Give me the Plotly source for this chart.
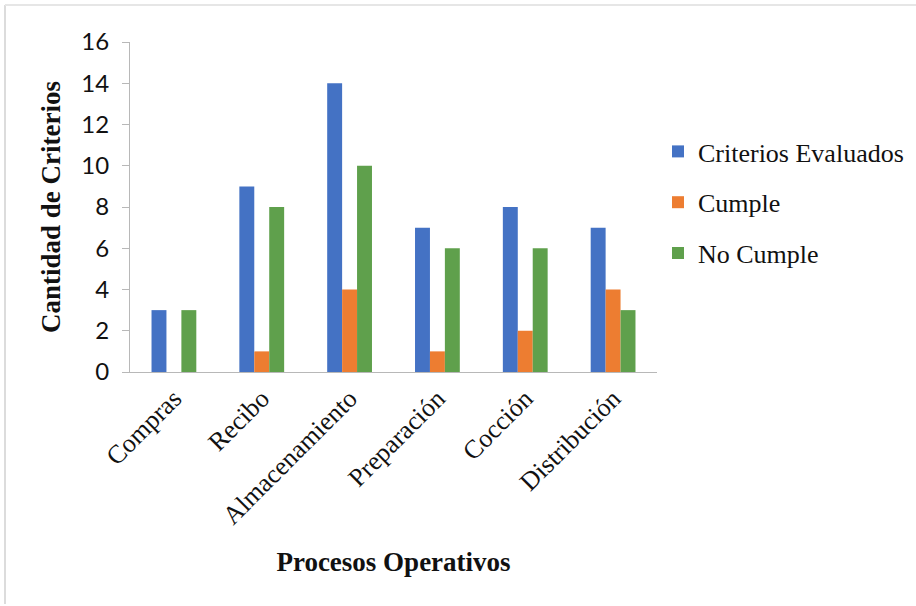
import plotly.graph_objects as go

# Operational processes and evaluation counts
procesos = ["Compras", "Recibo", "Almacenamiento", "Preparación", "Cocción", "Distribución"]
criterios_evaluados = [3, 9, 14, 7, 8, 7]
cumple = [0, 1, 4, 1, 2, 4]
no_cumple = [3, 8, 10, 6, 6, 3]

series_names = ["Criterios Evaluados", "Cumple", "No Cumple"]
series_colors = ["#4472C4", "#ED7D31", "#5FA04C"]
y_ticks = [0, 2, 4, 6, 8, 10, 12, 14, 16]

W, H = 916, 606
L, R, T, B = 130, 259, 42, 234
plot_w = W - L - R
plot_h = H - T - B

serif = "Liberation Serif, Times New Roman, serif"
sans = "Lato, Carlito, Calibri, sans-serif"

fig = go.Figure()
for name, vals, color in zip(series_names, [criterios_evaluados, cumple, no_cumple], series_colors):
    fig.add_trace(go.Bar(
        x=procesos, y=vals, name=name, marker_color=color,
        marker_line_width=0, legendgroup=name,
    ))

fig.update_layout(
    width=W, height=H,
    margin=dict(l=L, r=R, t=T, b=B, autoexpand=False),
    paper_bgcolor="white", plot_bgcolor="white",
    barmode="group", bargap=0.49, bargroupgap=0,
    showlegend=True,
    legend=dict(
        x=(658 - L) / plot_w, xanchor="left",
        y=(H - B - 128) / plot_h, yanchor="top",
        font=dict(family=serif, size=26, color="#111"),
        tracegroupgap=14, bgcolor="rgba(0,0,0,0)",
    ),
    font=dict(family=serif, color="#111"),
)

fig.update_xaxes(
    showline=True, linecolor="#b8b8b8", linewidth=1,
    ticks="", tickangle=-45,
    tickfont=dict(family=serif, size=26, color="#111"),
    showgrid=False, automargin=False,
    title=dict(text="<b>Procesos Operativos</b>", font=dict(family=serif, size=27, color="#111"), standoff=22),
)
fig.update_yaxes(
    range=[0, 16], tickvals=y_ticks,
    showline=True, linecolor="#b8b8b8", linewidth=1,
    ticks="outside", ticklen=7, tickcolor="#b8b8b8",
    ticklabelstandoff=8,
    tickfont=dict(family=sans, size=24, color="#111"),
    showgrid=False, zeroline=False, automargin=False,
    title=dict(text="<b>Cantidad de Criterios</b>", font=dict(family=serif, size=27, color="#111"), standoff=12),
)

# faint frame along the left and top edges
fig.add_shape(type="line", xref="paper", yref="paper",
              x0=(5 - L) / plot_w, x1=(5 - L) / plot_w,
              y0=(H - B - 604) / plot_h, y1=(H - B - 5) / plot_h,
              line=dict(color="#dcdcdc", width=2))
fig.add_shape(type="line", xref="paper", yref="paper",
              x0=(5 - L) / plot_w, x1=(916 - L) / plot_w,
              y0=(H - B - 5) / plot_h, y1=(H - B - 5) / plot_h,
              line=dict(color="#e6e6e6", width=2))

fig.write_html("out.html")
